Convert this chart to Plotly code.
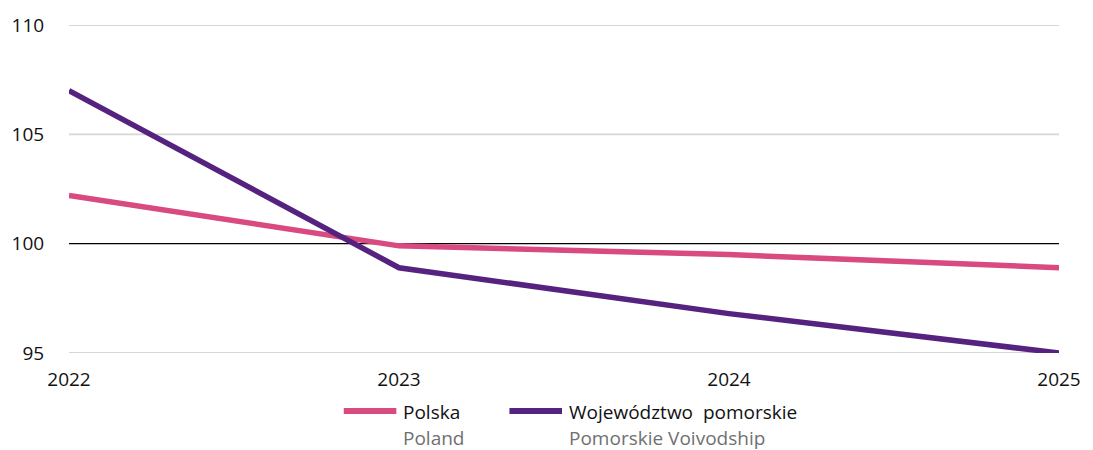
import plotly.graph_objects as go

years = [2022, 2023, 2024, 2025]
polska = [102.2, 99.9, 99.5, 98.9]
pomorskie = [107.0, 98.9, 96.8, 95.0]
y_ticks = [95, 100, 105, 110]

PINK = "#d84a80"
PURPLE = "#55237f"
FONT = "Open Sans, Noto Sans, sans-serif"
SIZE = 19

W, H = 1093, 450
L, R, T, B = 65, 30, 20, 97
PW, PH = W - L - R, H - T - B


def px_x(x):
    return (x - L) / PW


def px_y(y):
    return (H - B - y) / PH


fig = go.Figure()

# horizontal grid lines; the 100 baseline is drawn in black
for v in y_ticks:
    fig.add_shape(type="line", xref="paper", yref="y", x0=0, x1=1, y0=v, y1=v,
                  line=dict(color="black" if v == 100 else "#d6d6d6",
                            width=1.2 if v == 100 else 1.8),
                  layer="below")

fig.add_trace(go.Scatter(x=years, y=polska, mode="lines", name="Polska",
                         line=dict(color=PINK, width=5.5), cliponaxis=False))
fig.add_trace(go.Scatter(x=years, y=pomorskie, mode="lines", name="Województwo pomorskie",
                         line=dict(color=PURPLE, width=5.5), cliponaxis=False))

# legend drawn by hand: swatch + two-line label
legend_items = [
    (342, PINK, "Polska", "Poland"),
    (509, PURPLE, "Województwo&nbsp; pomorskie", "Pomorskie Voivodship"),
]
for x0, color, main, sub in legend_items:
    fig.add_shape(type="line", xref="paper", yref="paper",
                  x0=px_x(x0), x1=px_x(x0 + 53), y0=px_y(412), y1=px_y(412),
                  line=dict(color=color, width=6))
    fig.add_annotation(xref="paper", yref="paper", x=px_x(x0 + 58), y=px_y(413),
                       text=main, showarrow=False,
                       xanchor="left", yanchor="middle",
                       font=dict(family=FONT, size=SIZE, color="#111111"))
    fig.add_annotation(xref="paper", yref="paper", x=px_x(x0 + 58), y=px_y(439),
                       text=sub, showarrow=False, xanchor="left", yanchor="middle",
                       font=dict(family=FONT, size=SIZE, color="#707070"))

fig.update_layout(
    width=W, height=H,
    margin=dict(l=L, r=R, t=T, b=B),
    paper_bgcolor="white", plot_bgcolor="white",
    showlegend=False,
    font=dict(family=FONT, size=SIZE, color="#111111"),
    xaxis=dict(range=[2022, 2025], tickvals=years, ticktext=[str(y) for y in years],
               showgrid=False, zeroline=False, showline=False,
               ticks="outside", ticklen=9, tickcolor="rgba(0,0,0,0)"),
    yaxis=dict(range=[95, 110], tickvals=y_ticks, showgrid=False,
               zeroline=False, showline=False,
               ticks="outside", ticklen=20, tickcolor="rgba(0,0,0,0)"),
)

fig.write_html("out.html")
